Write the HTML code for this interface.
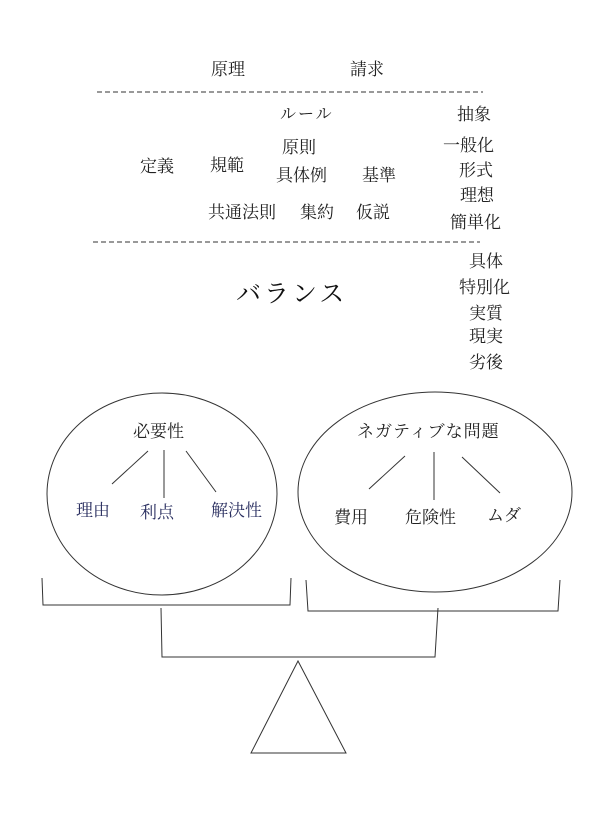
<!DOCTYPE html>
<html><head><meta charset="utf-8"><style>
html,body{margin:0;padding:0;background:#fff;}
svg{display:block;}
text{font-family:"Liberation Serif","Noto Serif CJK SC","Noto Sans CJK JP",serif;fill:#222;font-size:17px;}
.b{fill:#2a2f60;}
</style></head><body>
<svg width="602" height="822" viewBox="0 0 602 822">
<g stroke="#333" fill="none" stroke-width="1">
<line x1="97" y1="92" x2="483" y2="92" stroke-dasharray="5,3"/>
<line x1="93" y1="242" x2="480" y2="242" stroke-dasharray="5,3"/>
<ellipse cx="162" cy="494" rx="115" ry="101"/>
<ellipse cx="435" cy="492" rx="137" ry="100"/>
<line x1="148" y1="451" x2="112" y2="484"/>
<line x1="164" y1="450" x2="164" y2="498"/>
<line x1="186" y1="451" x2="216" y2="492"/>
<line x1="405" y1="456" x2="369" y2="489"/>
<line x1="434" y1="452" x2="434" y2="500"/>
<line x1="462" y1="457" x2="500" y2="493"/>
<path d="M42 578 L43 605 L290 605 L291 578"/>
<path d="M306 580 L308 611 L558 611 L560 580"/>
<path d="M161 608 L162 657 L435 657 L438 608"/>
<path d="M298 661 L251 753 L346 753 Z"/>
</g>
<text x="211" y="75">原理</text>
<text x="350" y="75">請求</text>
<text x="280" y="119" style="font-size:16px;letter-spacing:2px">ルール</text>
<text x="457" y="120">抽象</text>
<text x="282" y="153">原則</text>
<text x="443" y="151">一般化</text>
<text x="140" y="172">定義</text>
<text x="210" y="171">規範</text>
<text x="276" y="181">具体例</text>
<text x="362" y="181">基準</text>
<text x="459" y="176">形式</text>
<text x="460" y="201">理想</text>
<text x="208" y="218">共通法則</text>
<text x="300" y="218">集約</text>
<text x="356" y="218">仮説</text>
<text x="450" y="228">簡単化</text>
<text x="469" y="267">具体</text>
<text x="459" y="293">特別化</text>
<text x="469" y="319">実質</text>
<text x="469" y="342">現実</text>
<text x="469" y="368">劣後</text>
<text x="236" y="302" style="font-size:25px;letter-spacing:3px;fill:#111">バランス</text>
<text x="133" y="437">必要性</text>
<text class="b" x="76" y="516">理由</text>
<text class="b" x="140" y="518">利点</text>
<text class="b" x="211" y="516">解決性</text>
<text x="357" y="437" style="letter-spacing:1px">ネガティブな問題</text>
<text x="334" y="523">費用</text>
<text x="405" y="523">危険性</text>
<text x="487" y="521">ムダ</text>
</svg>
</body></html>
